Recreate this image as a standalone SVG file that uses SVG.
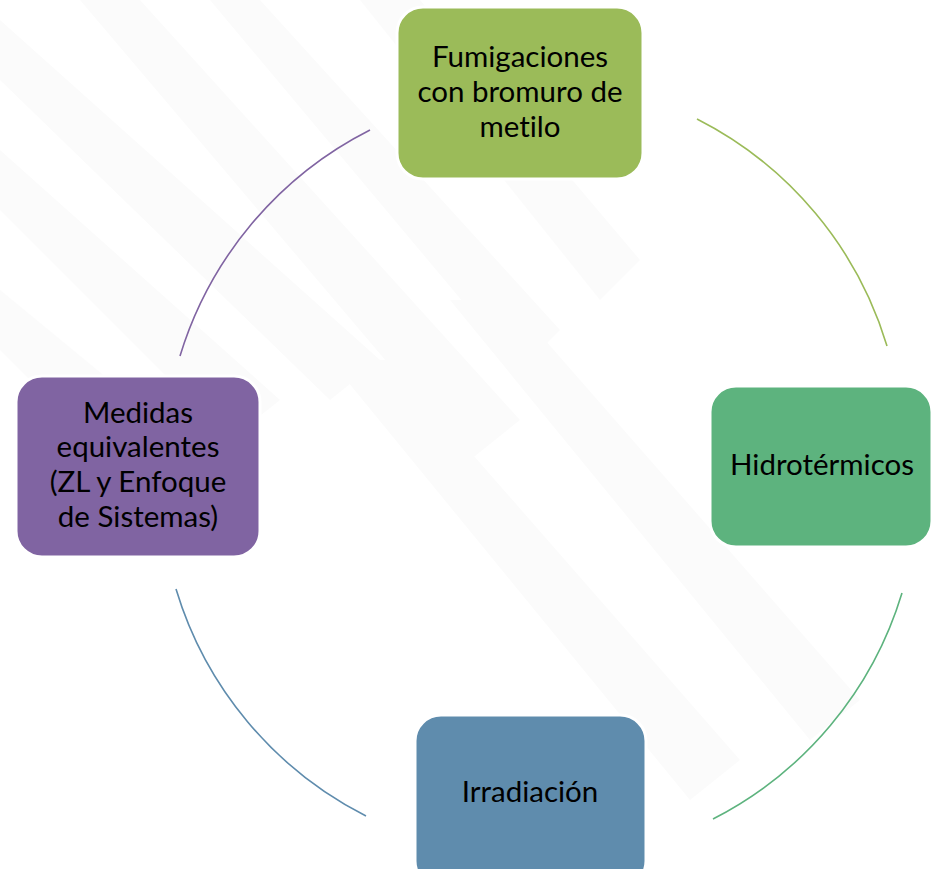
<svg xmlns="http://www.w3.org/2000/svg" width="933" height="869" viewBox="0 0 933 869">
  <style>
    .node rect { stroke: #ffffff; stroke-width: 3; }
    .node text { font-family: Lato, "Liberation Sans", sans-serif; font-size: 29.5px; fill: #000000; text-anchor: middle; font-variant-ligatures: none; font-feature-settings: "liga" 0; }
    .conn path { fill: none; stroke-width: 1.6; }
    .wm { fill: #fbfbfb; }
  </style>
  <rect x="0" y="0" width="933" height="869" fill="#ffffff"/>
  <g id="watermark">
    <path class="wm" d="M80,0 L140,0 L520,420 L470,460 Z"/>
    <path class="wm" d="M210,0 L260,0 L560,330 L520,370 Z"/>
    <path class="wm" d="M0,20 L0,80 L330,400 L380,360 Z"/>
    <path class="wm" d="M0,150 L0,210 L230,440 L280,400 Z"/>
    <path class="wm" d="M0,290 L0,350 L120,470 L170,430 Z"/>
    <path class="wm" d="M360,0 L420,0 L640,260 L600,300 Z"/>
    <path class="wm" d="M450,300 L510,300 L860,700 L810,740 Z"/>
    <path class="wm" d="M330,360 L390,360 L740,760 L690,800 Z"/>
  </g>
  <g id="connectors" class="conn">
    <path d="M180,356 A376,376 0 0 1 370,130" stroke="#8064a2"/>
    <path d="M697,119 A376,376 0 0 1 887,346" stroke="#9bbb59"/>
    <path d="M902,593 A376,376 0 0 1 713,819" stroke="#5db37e"/>
    <path d="M366,816 A376,376 0 0 1 176,589" stroke="#5f8cad"/>
  </g>
  <g id="node-fumigaciones" class="node">
    <rect x="397" y="7" width="246" height="172" rx="26" fill="#9bbb59"/>
    <text x="520" y="67">Fumigaciones</text>
    <text x="520" y="102">con bromuro de</text>
    <text x="520" y="137">metilo</text>
  </g>
  <g id="node-hidrotermicos" class="node">
    <rect x="710" y="386" width="222" height="161" rx="26" fill="#5db37e"/>
    <text x="822" y="475">Hidrotérmicos</text>
  </g>
  <g id="node-irradiacion" class="node">
    <rect x="415" y="715" width="231" height="172" rx="26" fill="#5f8cad"/>
    <text x="530" y="802">Irradiación</text>
  </g>
  <g id="node-medidas" class="node">
    <rect x="16" y="376" width="244" height="181" rx="26" fill="#8064a2"/>
    <text x="138" y="423">Medidas</text>
    <text x="138" y="457">equivalentes</text>
    <text x="138" y="492">(ZL y Enfoque</text>
    <text x="138" y="527">de Sistemas)</text>
  </g>
</svg>
